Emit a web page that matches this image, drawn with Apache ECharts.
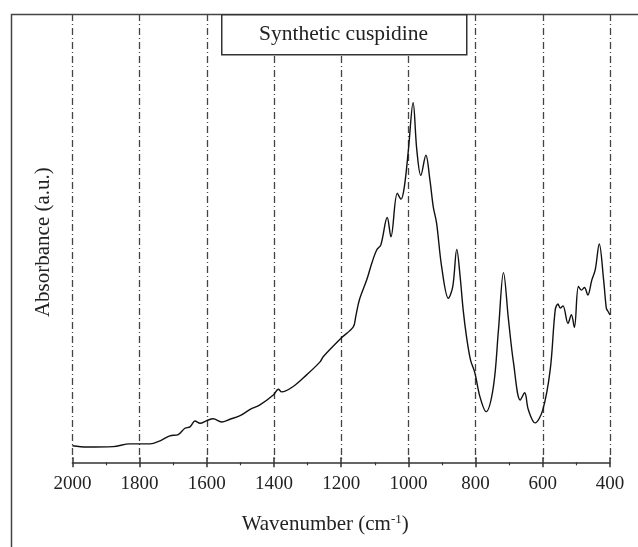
<!DOCTYPE html>
<html>
<head>
<meta charset="utf-8">
<script src="https://cdn.jsdelivr.net/npm/echarts@6/dist/echarts.min.js"></script>
<style>
  html, body { margin: 0; padding: 0; background: #fff; }
  #chart { width: 638px; height: 547px; }
</style>
</head>
<body>
<div id="chart"></div>
<script>
// wavenumber (cm-1)
const wavenumber = [
  2000, 1957, 1879, 1829, 1769, 1739, 1710, 1685, 1665, 1650, 1635, 1620, 1600, 1581, 1556, 1531,
  1501, 1471, 1442, 1402, 1387, 1377, 1343, 1303, 1263, 1253, 1200, 1164, 1157, 1146, 1124, 1109, 1094,
  1082, 1063, 1052, 1033, 1022, 1012, 1000, 986, 975, 963, 948, 936, 926, 916, 901, 881,
  868, 856, 846, 837, 827, 815, 802, 787, 769, 747, 732, 717, 702, 687, 667, 654,
  643, 623, 600, 578, 563, 555, 548, 540, 525, 515, 506, 494, 485, 476, 466, 454,
  444, 432, 419, 411, 407, 400
]
// absorbance (a.u.)
const absorbance = [
  0.037, 0.034, 0.035, 0.041, 0.041, 0.048, 0.059, 0.062, 0.076, 0.079, 0.092, 0.087, 0.093, 0.097, 0.090, 0.096,
  0.104, 0.118, 0.128, 0.150, 0.163, 0.157, 0.169, 0.195, 0.224, 0.236, 0.277, 0.302, 0.324, 0.362, 0.407, 0.444, 0.474,
  0.485, 0.546, 0.503, 0.600, 0.587, 0.615, 0.697, 0.802, 0.697, 0.640, 0.685, 0.630, 0.570, 0.533, 0.436, 0.366,
  0.392, 0.475, 0.414, 0.340, 0.280, 0.228, 0.199, 0.146, 0.113, 0.169, 0.295, 0.423, 0.317, 0.221, 0.139, 0.155,
  0.117, 0.088, 0.117, 0.206, 0.340, 0.353, 0.344, 0.349, 0.310, 0.329, 0.301, 0.392, 0.384, 0.390, 0.373, 0.407,
  0.429, 0.487, 0.407, 0.344, 0.338, 0.329
]
const titleText = 'Synthetic cuspidine'

const font = 'Liberation Serif'
const chart = echarts.init(document.getElementById('chart'))

const baseX = {
  type: 'value',
  min: 400,
  max: 2000,
  interval: 200,
  inverse: true
}

chart.setOption({
  animation: false,
  grid: { left: 72.4, right: 28, top: 14, bottom: 84.7 },
  xAxis: [
    Object.assign({}, baseX, {
      position: 'bottom',
      name: '{a|Wavenumber (cm}{s|-1}{a|)}',
      nameLocation: 'middle',
      nameGap: 51,
      nameTextStyle: {
        padding: [0, 32, 0, 0],
        rich: {
          a: { fontFamily: font, fontSize: 21, color: '#222' },
          s: { fontFamily: font, fontSize: 13, color: '#222', verticalAlign: 'top', padding: [0, 0, 9, 0] }
        }
      },
      axisLine: { show: true, lineStyle: { color: '#333', width: 1.5 } },
      axisTick: { show: true, inside: false, length: 5, lineStyle: { color: '#333', width: 1.5 } },
      minorTick: { show: true, splitNumber: 2, length: 3, lineStyle: { color: '#333', width: 1.2 } },
      axisLabel: {
        fontFamily: font, fontSize: 19, color: '#222', margin: 12,
        formatter: v => String(v)
      },
      splitLine: {
        show: true,
        lineStyle: { color: '#444', width: 1.3, type: [7, 3, 1, 3] }
      }
    }),
    Object.assign({}, baseX, {
      position: 'bottom',
      offset: 0,
      axisLine: { show: false },
      axisTick: { show: true, inside: true, length: 5, lineStyle: { color: '#333', width: 1.5 } },
      axisLabel: { show: false },
      splitLine: { show: false }
    })
  ],
  yAxis: {
    type: 'value',
    min: 0,
    max: 1,
    name: 'Absorbance (a.u.)',
    nameLocation: 'middle',
    nameRotate: 90,
    nameGap: 18,
    nameTextStyle: { fontFamily: font, fontSize: 21, color: '#222', padding: [0, 8, 0, 0] },
    axisLine: { show: false },
    axisTick: { show: false },
    axisLabel: { show: false },
    splitLine: { show: false }
  },
  series: [{
    type: 'line',
    xAxisIndex: 0,
    data: wavenumber.map((w, i) => [w, absorbance[i]]),
    showSymbol: false,
    smooth: 0.35,
    lineStyle: { color: '#111', width: 1.4 }
  }],
  graphic: [
    {
      type: 'rect',
      left: 9,
      top: 12,
      shape: { width: 700, height: 600 },
      style: { fill: 'none', stroke: '#444', lineWidth: 1.5 },
      silent: true
    },
    {
      type: 'rect',
      z: 100,
      left: 221,
      top: 14,
      shape: { width: 245, height: 40 },
      style: { fill: '#fff', stroke: '#333', lineWidth: 1.5 }
    },
    {
      type: 'text',
      z: 101,
      x: 343.5,
      y: 34,
      style: {
        text: titleText,
        fontFamily: font,
        fontSize: 21.5,
        fill: '#222',
        align: 'center',
        verticalAlign: 'middle'
      }
    }
  ]
})
</script>
</body>
</html>
